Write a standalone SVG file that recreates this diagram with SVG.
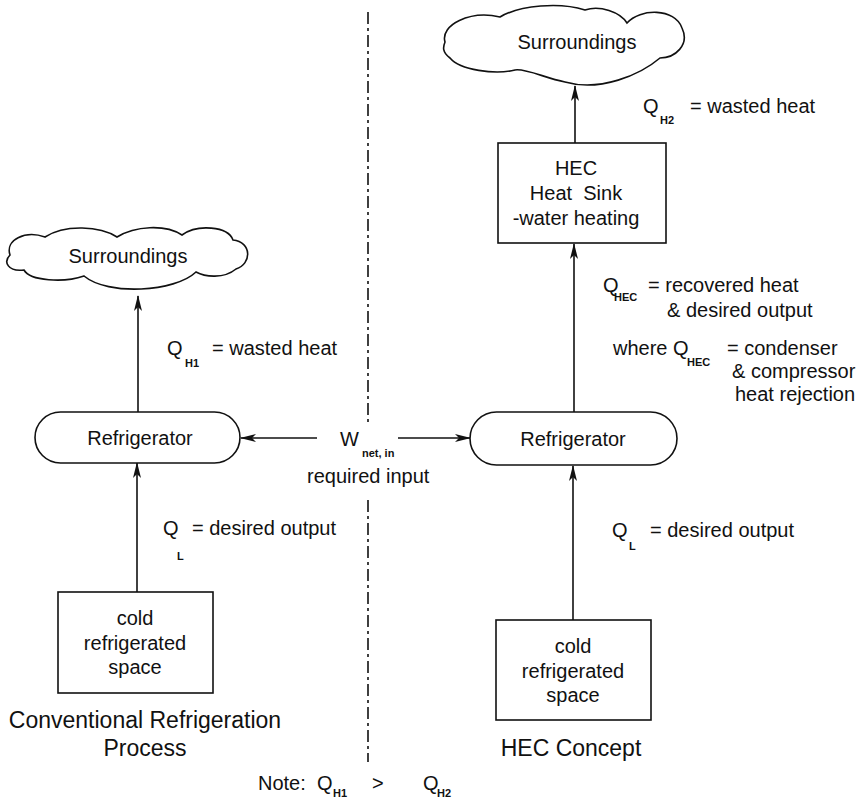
<svg xmlns="http://www.w3.org/2000/svg" xmlns:xlink="http://www.w3.org/1999/xlink" width="863" height="804" viewBox="0 0 863 804">
<style>
text{font-family:"Liberation Sans",Arial,sans-serif;font-size:20px;fill:#111}
.sub{font-size:11px;font-weight:bold}
.big{font-size:23px}
.c{text-anchor:middle}
.shape{fill:#fff;stroke:#111;stroke-width:1.6}
.line{stroke:#111;stroke-width:1.6;fill:none}
.dash{stroke:#111;stroke-width:1.6;fill:none;stroke-dasharray:12 4 3 4}
</style>
<defs>
<marker id="ah" viewBox="0 0 16 8" refX="15" refY="4" markerWidth="16" markerHeight="8" markerUnits="userSpaceOnUse" orient="auto">
<path d="M0,0 L16,4 L0,8 L4,4 Z" fill="#111"/>
</marker>
</defs>
<rect width="863" height="804" fill="#fff"/>

<g id="connectors">
<line class="line" x1="138" y1="412" x2="138" y2="296" marker-end="url(#ah)"/>
<line class="line" x1="137" y1="592" x2="137" y2="463" marker-end="url(#ah)"/>
<line class="line" x1="317" y1="438" x2="241" y2="438" marker-end="url(#ah)"/>
<line class="line" x1="398" y1="438" x2="470" y2="438" marker-end="url(#ah)"/>
<line class="line" x1="573" y1="620" x2="573" y2="466" marker-end="url(#ah)"/>
<line class="line" x1="574" y1="412" x2="574" y2="244" marker-end="url(#ah)"/>
<line class="line" x1="575" y1="143" x2="575" y2="86" marker-end="url(#ah)"/>
<line class="dash" x1="368" y1="12" x2="368" y2="426"/>
<line class="dash" x1="368" y1="500" x2="368" y2="762"/>
</g>

<g id="surroundings-left">
<path class="shape" d="M 10,255 C 5,240 25,230 45,237 C 65,224 100,226 117,237 C 135,226 165,224 182,235 C 197,224 228,226 233,240 C 252,242 252,264 236,269 C 224,279 205,277 196,272 C 175,292 108,296 84,276 C 64,283 30,281 24,270 C 8,272 3,262 10,255 Z"/>
<text class="c" x="128" y="263">Surroundings</text>
</g>

<g id="refrigerator-left">
<rect class="shape" x="35" y="412" width="205" height="51" rx="25.5"/>
<text class="c" x="140" y="445">Refrigerator</text>
</g>

<g id="cold-space-left">
<rect class="shape" x="58" y="592" width="155" height="101"/>
<text class="c" x="135" y="625">cold</text>
<text class="c" x="135" y="650">refrigerated</text>
<text class="c" x="135" y="674">space</text>
</g>

<g id="surroundings-right">
<path class="shape" d="M 445,42 C 440,25 470,10 500,17 C 520,5 560,2 585,10 C 600,5 620,12 627,23 C 640,8 675,8 682,28 C 690,45 675,58 660,58 C 640,75 600,92 565,82 C 545,78 525,68 515,70 C 495,75 460,70 450,58 C 442,52 443,47 445,42 Z"/>
<text class="c" x="577" y="49">Surroundings</text>
</g>

<g id="hec-heat-sink">
<rect class="shape" x="498" y="143" width="168" height="100"/>
<text class="c" x="576" y="175">HEC</text>
<text class="c" x="576" y="200" xml:space="preserve">Heat  Sink</text>
<text class="c" x="576" y="225">-water heating</text>
</g>

<g id="refrigerator-right">
<rect class="shape" x="470" y="412" width="207" height="53" rx="26.5"/>
<text class="c" x="573" y="446">Refrigerator</text>
</g>

<g id="cold-space-right">
<rect class="shape" x="496" y="620" width="155" height="100"/>
<text class="c" x="573" y="653">cold</text>
<text class="c" x="573" y="678">refrigerated</text>
<text class="c" x="573" y="702">space</text>
</g>

<g id="labels">
<text x="167" y="355">Q</text><text class="sub" x="185" y="367">H1</text><text x="212" y="355">= wasted heat</text>
<text x="163" y="535">Q</text><text class="sub" x="177" y="560">L</text><text x="192" y="535">= desired output</text>
<text x="340" y="446">W</text><text class="sub" x="362" y="457">net, in</text>
<text x="307" y="483">required input</text>
<text x="643" y="113">Q</text><text class="sub" x="660" y="124">H2</text><text x="690" y="113">= wasted heat</text>
<text x="603" y="292">Q</text><text class="sub" x="614" y="301">HEC</text><text x="648" y="292">= recovered heat</text>
<text x="667" y="317">&amp; desired output</text>
<text x="613" y="355">where Q</text><text class="sub" x="687" y="366">HEC</text><text x="727" y="355">= condenser</text>
<text x="732" y="378">&amp; compressor</text>
<text x="735" y="401">heat rejection</text>
<text x="612" y="537">Q</text><text class="sub" x="629" y="550">L</text><text x="650" y="537">= desired output</text>
<text class="big c" x="145" y="728">Conventional Refrigeration</text>
<text class="big c" x="145" y="756">Process</text>
<text class="big c" x="571" y="756">HEC Concept</text>
<text x="258" y="790">Note:</text>
<text x="317" y="790">Q</text><text class="sub" x="333" y="797">H1</text>
<text x="372" y="790">&gt;</text>
<text x="423" y="790">Q</text><text class="sub" x="437" y="797">H2</text>
</g>
</svg>
